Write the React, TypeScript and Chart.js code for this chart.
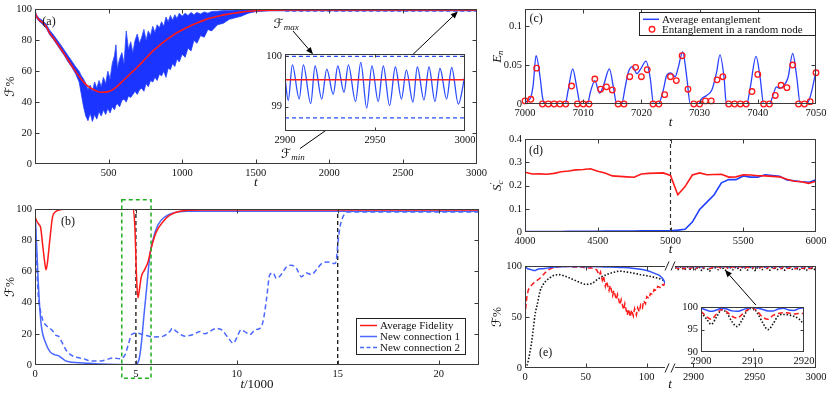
import React, { useEffect, useRef } from 'react';
import { Chart, registerables } from 'chart.js';
Chart.register(...registerables);

const SERIF = "'Liberation Serif','Times New Roman',serif";
const MATHF = "'DejaVu Serif','DejaVu Sans',serif";
const BOX = '#3a3a3a';
const RED = '#ff1a1a';

// ---------------- Panel (a) ----------------
const A_T = [0, 10, 25, 50, 75, 100, 125, 150, 175, 200, 225, 250, 275, 300, 315, 330, 345, 360, 375, 390, 405, 420, 435, 450, 465, 480, 495, 510, 525, 540, 550, 560, 575, 590, 605, 620, 635, 650, 665, 680, 695, 710, 725, 740, 755, 770, 785, 800, 815, 830, 845, 860, 875, 890, 905, 920, 935, 950, 965, 980, 1000, 1020, 1040, 1060, 1080, 1100, 1125, 1150, 1175, 1200, 1240, 1280, 1320, 1360, 1400, 1450, 1500, 1600, 1800, 3000];
const A_UPPER = [99.5, 96.5, 94.5, 92.8, 90.5, 86.5, 83.5, 80.3, 77, 73.5, 70, 66.5, 63, 60, 57, 55, 52, 48, 51, 47, 53, 49, 54, 50, 56, 52, 60, 55, 65, 70, 77, 62, 68, 72, 65, 86, 74, 79, 72, 80, 84, 78, 82, 87, 80, 86, 83, 89, 85, 90, 88, 92, 89, 95, 92, 96, 93, 96.5, 94, 97.5, 95.5, 97.5, 96, 98, 96.5, 98, 97, 98.3, 97.5, 98.6, 98.8, 99.2, 99.3, 99.5, 99.7, 99.8, 99.9, 99.95, 99.95, 99.95];
const A_LOWER = [97, 94.5, 92.5, 90.5, 88, 83.5, 80.5, 77, 73.5, 70, 66, 62.5, 58.5, 53, 45, 37, 31, 28, 33, 27.5, 32, 29, 34, 31, 35, 32, 36, 33, 37, 35, 38, 39, 37, 41, 42, 40, 44, 43, 45, 47, 45, 48, 49, 47, 52, 50, 54, 53, 56, 54, 58, 57, 60, 56, 62, 61, 65, 63, 68, 66, 71, 69, 75, 73, 80, 78, 83, 82, 87, 86, 90, 91, 93.5, 94.5, 95.5, 97.5, 98.5, 99, 99.05, 99.05];
const A_RED_T = [0, 10, 25, 50, 75, 100, 125, 150, 175, 200, 250, 300, 350, 400, 446, 500, 550, 600, 650, 700, 750, 800, 850, 900, 950, 1000, 1050, 1100, 1150, 1200, 1250, 1300, 1350, 1400, 1450, 1500, 1600, 1700, 3000];
const A_RED = [98, 95.5, 93.5, 91.5, 89, 84.5, 81.5, 78, 74.5, 71, 63.5, 56.5, 51, 48, 46.4, 46.8, 49.5, 54, 58.5, 63, 68, 73, 77, 80.7, 84, 86.6, 89, 91.2, 93, 94.5, 95.7, 96.7, 97.5, 98.2, 98.7, 99.1, 99.4, 99.5, 99.5];
const A_FMAX = 99.99;
const A_FMIN = 98.78;
const A_BOUND_T = [1700, 3000];
// inset (a)
const AI_T = [2900, 2901.8, 2904.1, 2907.9, 2910.2, 2914.3, 2916.7, 2920.4, 2923.2, 2926.8, 2929.3, 2932.8, 2935.2, 2939.2, 2942.1, 2945.4, 2948.3, 2951.8, 2954.6, 2958.1, 2961.3, 2964.7, 2967.4, 2971.1, 2973.5, 2977.2, 2980.0, 2983.3, 2986.1, 2989.8, 2992.6, 2996.3, 3000];
const AI_BLUE = [99.56, 99.12, 99.82, 99.15, 99.82, 99.06, 99.80, 99.15, 99.74, 99.24, 99.80, 99.28, 99.82, 99.10, 99.87, 98.97, 99.80, 99.10, 99.80, 99.02, 99.78, 99.15, 99.72, 99.09, 99.78, 99.13, 99.78, 99.10, 99.75, 99.15, 99.77, 99.05, 99.62];
const AI_RED = 99.53;

// ---------------- Panel (b) ----------------
const B_AVG_T = [0, 0.1, 0.2, 0.28, 0.38, 0.5, 0.55, 0.62, 0.74, 0.87, 1.0, 1.3, 1.6, 4.87, 4.95, 5.03, 5.1, 5.18, 5.27, 5.43, 5.6, 5.76, 6.0, 6.35, 6.68, 7.18, 8.2, 22];
const B_AVG = [95, 92, 90, 88, 77, 64, 61, 66, 81, 95, 98, 99.7, 100, 100, 88, 57, 43, 49, 56.6, 61, 66, 75, 85, 92, 96, 98.5, 99.3, 99.3];
const B_C1_T = [0, 0.08, 0.16, 0.25, 0.33, 0.5, 0.74, 0.99, 1.16, 1.32, 1.57, 2.4, 3.2, 4.87, 5.03, 5.17, 5.28, 5.4, 5.53, 5.7, 5.86, 6.1, 6.44, 6.85, 7.5, 22];
const B_C1 = [99, 77, 53.5, 34, 23.5, 15, 8.6, 6.5, 6, 4.5, 2.4, 1.3, 0.6, 0.2, 0.5, 4.5, 15, 32, 49, 71, 81, 90, 95, 97.5, 98.5, 98.5];
const B_C2_T = [0, 0.08, 0.16, 0.28, 0.41, 0.58, 0.74, 0.9, 1.04, 1.16, 1.32, 1.57, 1.9, 2.4, 2.8, 3.2, 3.55, 3.88, 4.2, 4.46, 4.62, 4.79, 5.03, 5.36, 5.86, 6.35, 6.68, 6.8, 7.0, 7.43, 7.84, 8.17, 8.42, 8.66, 9.0, 9.25, 9.57, 9.82, 10.0, 10.2, 10.5, 10.65, 10.9, 11.15, 11.3, 11.47, 11.63, 11.8, 11.96, 12.2, 12.47, 12.7, 12.95, 13.2, 13.45, 13.7, 13.94, 14.2, 14.52, 14.85, 14.93, 15.0, 15.1, 15.26, 15.5, 22];
const B_C2 = [98, 66, 45, 34, 28, 25, 23.5, 21.5, 19, 18.5, 15, 9, 5.6, 4, 2.5, 2.5, 3.5, 4.5, 4, 6.5, 13, 19.5, 20.5, 19.5, 18, 18.5, 21.5, 23.5, 21.5, 18.5, 19.5, 21.5, 20, 21.5, 23.5, 22.5, 17.5, 14, 17.5, 22.5, 20.5, 19.5, 22.5, 23.5, 28, 42, 57.7, 59, 55.5, 58, 63, 64, 62, 56.6, 59, 58, 61, 65, 66, 65, 67, 77, 87.5, 95, 98, 98];
const B_MARKS = [5, 15];
const B_LEGEND = ['Average Fidelity', 'New connection 1', 'New connection 2'];

// ---------------- Panel (c) ----------------
const C_T = [7000, 7000.9, 7001.4, 7001.9, 7002.6, 7003.0, 7003.4, 7006.9, 7007.4, 7008.2, 7008.9, 7009.5, 7010.7, 7011.3, 7012.0, 7012.8, 7013.5, 7014.5, 7015.2, 7015.75, 7016.6, 7017.2, 7017.8, 7018.5, 7019.2, 7019.8, 7020.8, 7021.5, 7022.1, 7022.9, 7023.8, 7024.3, 7025.0, 7025.8, 7026.3, 7027.1, 7027.8, 7028.4, 7029.8, 7030.4, 7031.2, 7032.1, 7032.9, 7033.5, 7034.2, 7034.6, 7038.1, 7038.7, 7039.7, 7040.4, 7041.0, 7042.0, 7042.6, 7043.2, 7043.8, 7044.5, 7045.2, 7046.0, 7046.7, 7047.3, 7048.3, 7049.0, 7050];
const C_AVG = [0.003, 0.007, 0.024, 0.062, 0.034, 0.009, 0, 0, 0.017, 0.045, 0.021, 0, 0, 0.017, 0.030, 0.014, 0.024, 0.045, 0.021, 0, 0, 0.021, 0.042, 0.048, 0.039, 0.044, 0.055, 0.034, 0, 0, 0.019, 0.036, 0.040, 0.035, 0.046, 0.067, 0.034, 0, 0, 0.007, 0.011, 0.018, 0.040, 0.063, 0.034, 0, 0, 0.021, 0.061, 0.034, 0, 0, 0.011, 0.022, 0.020, 0.024, 0.034, 0.065, 0.034, 0, 0, 0.009, 0.042];
const C_NODE_T = [7000, 7001, 7002, 7003, 7004, 7005, 7006, 7007, 7008, 7009, 7010, 7011, 7012, 7013, 7014, 7015, 7016, 7017, 7018, 7019, 7020, 7021, 7022, 7023, 7024, 7025, 7026, 7027, 7028, 7029, 7030, 7031, 7032, 7033, 7034, 7035, 7036, 7037, 7038, 7039, 7040, 7041, 7042, 7043, 7044, 7045, 7046, 7047, 7048, 7049, 7050];
const C_NODE = [0.004, 0.006, 0.046, 0, 0, 0, 0, 0, 0.023, 0, 0, 0, 0.032, 0.019, 0.022, 0.018, 0, 0, 0.035, 0.047, 0.035, 0.044, 0, 0, 0.012, 0.035, 0.030, 0.062, 0.019, 0, 0, 0.004, 0.004, 0.031, 0.035, 0, 0, 0, 0, 0.016, 0.038, 0, 0, 0.011, 0.024, 0.021, 0.050, 0, 0, 0.003, 0.040];
const C_LEGEND = ['Average entanglement', 'Entanglement in a random node'];

// ---------------- Panel (d) ----------------
const D_T = [4000, 4050, 4100, 4150, 4200, 4250, 4300, 4350, 4400, 4450, 4500, 4550, 4600, 4650, 4700, 4750, 4800, 4850, 4900, 4950, 5000, 5050, 5100, 5150, 5200, 5250, 5300, 5350, 5400, 5450, 5500, 5550, 5600, 5650, 5700, 5750, 5800, 5850, 5900, 5950, 6000];
const D_RED = [0.258, 0.250, 0.251, 0.249, 0.253, 0.260, 0.263, 0.268, 0.270, 0.273, 0.262, 0.255, 0.242, 0.240, 0.238, 0.236, 0.250, 0.253, 0.254, 0.255, 0.244, 0.161, 0.196, 0.246, 0.255, 0.247, 0.248, 0.249, 0.237, 0.238, 0.247, 0.246, 0.243, 0.242, 0.240, 0.238, 0.228, 0.219, 0.217, 0.210, 0.219];
const D_BLUE = [0.002, 0.002, 0.002, 0.002, 0.002, 0.002, 0.003, 0.003, 0.003, 0.003, 0.003, 0.004, 0.004, 0.004, 0.004, 0.004, 0.005, 0.005, 0.005, 0.005, 0.005, 0.008, 0.012, 0.043, 0.097, 0.129, 0.161, 0.212, 0.226, 0.226, 0.242, 0.237, 0.237, 0.247, 0.244, 0.240, 0.224, 0.221, 0.217, 0.214, 0.225];
const D_MARK = 5000;

// ---------------- Panel (e) ----------------
const E_BLUE_T = [0, 2, 4, 6, 8, 10, 13, 16, 20, 25, 30, 35, 40, 45, 50, 55, 60, 65, 70, 75, 80, 85, 90, 95, 100, 104, 107, 110, 112, 114, 115];
const E_BLUE = [100, 97.5, 96.8, 96, 95.5, 96.5, 97.2, 97.5, 98.3, 99, 99.3, 99.5, 99.3, 99.5, 99.2, 99.4, 99.3, 99.1, 99, 98.8, 98.5, 98.2, 97.5, 96.8, 95.5, 94, 92.5, 91, 89, 86, 83];
const E_RED_T = [0, 0.7, 1.4, 2.7, 4.5, 6.8, 9.5, 12.3, 15, 17.8, 20.5, 23.3, 28, 33, 37, 42, 46, 50, 54, 57, 59, 61, 62, 63.5, 64.5, 66, 67, 69, 70, 72, 73, 75, 76, 78, 79, 81, 82, 84, 85, 86.5, 87.5, 89, 90, 91.5, 92.5, 94, 95, 96.5, 97.5, 99, 100, 102, 103, 105, 106, 108, 109, 111, 112, 114, 115];
const E_RED = [50, 60, 68.5, 76.6, 80, 83, 85.5, 88, 91.5, 95, 97, 98.4, 99.2, 99.5, 99.4, 98.8, 99.2, 98, 98.3, 97.5, 96, 91, 94, 86, 90, 80, 85, 76, 81, 71, 76, 67, 72, 62, 67, 57, 63, 52, 58, 50, 57, 51, 58, 52, 59, 55, 62, 59, 66, 63, 70, 68, 73, 72, 77, 76, 80, 79, 82, 81, 84];
const E_BLACK_T = [0, 1.5, 3.5, 5.5, 7, 8.2, 10, 12.3, 15, 17.8, 20.5, 23.3, 28, 34, 40, 45, 50, 55, 61, 66, 72, 78, 84, 89, 95, 100, 106, 111, 115];
const E_BLACK = [0, 2, 12, 26, 40, 52, 62, 75, 82, 86, 88.5, 90.6, 91.5, 89.5, 86.5, 84, 82, 83, 88, 91, 93.5, 95, 94, 93, 91.5, 90.5, 89, 87.3, 85.5];
const ER_T = [2885, 2887.5, 2890, 2892.5, 2895, 2897.5, 2900, 2902, 2904, 2907, 2910, 2913, 2915.5, 2918, 2920.5, 2923, 2926, 2929, 2932, 2935, 2938, 2941, 2944, 2947, 2950, 2953, 2956, 2959, 2962, 2965, 2968, 2971, 2974, 2977, 2980, 2983, 2986, 2989, 2992, 2995, 2998, 3000];
const ER_BLUE = [99.8, 99.2, 99.9, 99.1, 99.8, 99.3, 99.8, 99.1, 99.8, 99.1, 100, 99.2, 99.7, 99.3, 99.9, 99.2, 99.8, 99.1, 99.9, 99.3, 99.8, 99.1, 99.9, 99.2, 99.8, 99.2, 99.9, 99.1, 99.8, 99.3, 99.9, 99.1, 99.8, 99.2, 99.9, 99.1, 99.8, 99.3, 99.9, 99.2, 99.8, 99.6];
const ER_RED = [99.3, 97.6, 99.4, 97.4, 99.2, 97.8, 99.1, 97.3, 99.5, 97.6, 99.9, 97.3, 98.6, 98.5, 99.2, 97.5, 99.4, 97.2, 99.3, 97.6, 99.5, 97.4, 99.1, 97.3, 99.4, 97.7, 99.3, 97.2, 99.5, 97.5, 99.2, 97.4, 99.4, 97.6, 99.3, 97.3, 99.5, 97.5, 99.2, 97.4, 99.3, 98.5];
const ER_BLACK = [98.8, 96.5, 99.2, 96.0, 99.0, 96.8, 98.8, 96.2, 99.4, 95.7, 99.8, 95.0, 98.1, 98.2, 96.3, 99.0, 95.8, 99.3, 96.4, 99.1, 95.9, 99.4, 96.2, 99.0, 95.6, 99.2, 96.5, 99.3, 95.9, 99.0, 96.3, 99.4, 95.8, 99.1, 96.6, 99.2, 96.0, 99.3, 95.7, 99.0, 96.4, 97.5];
const EI_T = [2900, 2901, 2902, 2903, 2904, 2905, 2906, 2907, 2908, 2909, 2910, 2911, 2912, 2913, 2914, 2915, 2916, 2917, 2918, 2919, 2920];
const EI_BLUE = [99.8, 99.4, 99.1, 99.4, 99.8, 99.6, 99.2, 99.1, 99.4, 99.8, 100, 99.8, 99.5, 99.2, 99.2, 99.6, 99.8, 99.4, 99.3, 99.7, 99.9];
const EI_RED = [99.1, 98.0, 97.3, 98.5, 99.5, 99.0, 98.0, 97.6, 98.4, 99.4, 99.9, 99.0, 97.8, 97.3, 98.2, 98.6, 98.8, 98.7, 98.5, 98.6, 98.6];
const EI_BLACK = [98.8, 97.5, 96.2, 97.8, 99.4, 98.8, 96.8, 95.7, 97.2, 99.3, 99.8, 98.6, 96.5, 95.0, 96.3, 98.1, 98.4, 98.3, 98.0, 97.4, 96.2];

// ---------------- helpers ----------------
const pts = (xs: number[], ys: number[]) => xs.map((x, i) => ({ x, y: ys[i] }));
const flat = (xs: number[], v: number) => xs.map((x) => ({ x, y: v }));
const vline = (x: number, y0: number, y1: number) => [{ x, y: y0 }, { x, y: y1 }];
const fmt = (v: any) => String(Math.round(Number(v) * 1000) / 1000);

type Seg = { t: string; size?: number; dy?: number; italic?: boolean; font?: string; noAdv?: boolean };
function drawSegs(ctx: any, segs: Seg[], cx: number, cy: number, rot = 0) {
  ctx.save();
  ctx.translate(cx, cy);
  if (rot) ctx.rotate(rot);
  const fonts = segs.map((s) => `${s.italic ? 'italic ' : ''}${s.size || 12}px ${s.font || SERIF}`);
  let total = 0;
  const widths = segs.map((s, i) => { ctx.font = fonts[i]; const w = ctx.measureText(s.t).width; if (!s.noAdv) total += w; return w; });
  let x = -total / 2;
  ctx.textBaseline = 'middle'; ctx.textAlign = 'left'; ctx.fillStyle = '#111';
  segs.forEach((s, i) => { ctx.font = fonts[i]; ctx.fillText(s.t, x, s.dy || 0); if (!s.noAdv) x += widths[i]; });
  ctx.restore();
}
function arrow(ctx: any, x0: number, y0: number, x1: number, y1: number) {
  const ang = Math.atan2(y1 - y0, x1 - x0);
  const hl = 7, hw = 3;
  ctx.save();
  ctx.strokeStyle = '#000'; ctx.fillStyle = '#000'; ctx.lineWidth = 1; ctx.setLineDash([]);
  ctx.beginPath(); ctx.moveTo(x0, y0); ctx.lineTo(x1 - hl * Math.cos(ang), y1 - hl * Math.sin(ang)); ctx.stroke();
  ctx.beginPath();
  ctx.moveTo(x1, y1);
  ctx.lineTo(x1 - hl * Math.cos(ang) + hw * Math.sin(ang), y1 - hl * Math.sin(ang) - hw * Math.cos(ang));
  ctx.lineTo(x1 - hl * Math.cos(ang) - hw * Math.sin(ang), y1 - hl * Math.sin(ang) + hw * Math.cos(ang));
  ctx.closePath(); ctx.fill();
  ctx.restore();
}
const FSEG: Seg[] = [{ t: 'ℱ', size: 13, font: MATHF }, { t: '%', size: 12 }];
const TSEG: Seg[] = [{ t: 't', size: 13, italic: true }];

function makeDeco(cfg: any) {
  return {
    id: 'deco',
    beforeDraw(chart: any) {
      if (!cfg.white) return;
      const { ctx, chartArea: a } = chart;
      ctx.save(); ctx.fillStyle = '#fff'; ctx.fillRect(a.left, a.top, a.right - a.left, a.bottom - a.top); ctx.restore();
    },
    afterDraw(chart: any) {
      const { ctx, chartArea: a } = chart;
      const s = Object.assign({ l: true, r: true, t: true, b: true }, cfg.sides || {});
      const tl = cfg.tickLen ?? 4;
      const L = Math.round(a.left) + 0.5, R = Math.round(a.right) - 0.5, T = Math.round(a.top) + 0.5, B = Math.round(a.bottom) - 0.5;
      ctx.save();
      ctx.strokeStyle = BOX; ctx.lineWidth = 1; ctx.setLineDash([]);
      ctx.beginPath();
      if (s.t) { ctx.moveTo(L - 0.5, T); ctx.lineTo(R + 0.5, T); }
      if (s.b) { ctx.moveTo(L - 0.5, B); ctx.lineTo(R + 0.5, B); }
      if (s.l) { ctx.moveTo(L, T); ctx.lineTo(L, B); }
      if (s.r) { ctx.moveTo(R, T); ctx.lineTo(R, B); }
      const xs = chart.scales.x, ys = chart.scales.y;
      (xs.ticks || []).forEach((t: any) => {
        const p = Math.round(xs.getPixelForValue(t.value)) + 0.5;
        if (p <= L + 1 || p >= R - 1) return;
        if (s.b) { ctx.moveTo(p, B); ctx.lineTo(p, B - tl); }
        if (s.t) { ctx.moveTo(p, T); ctx.lineTo(p, T + tl); }
      });
      if (ys.options.display !== false) (ys.ticks || []).forEach((t: any) => {
        const p = Math.round(ys.getPixelForValue(t.value)) + 0.5;
        if (p <= T + 1 || p >= B - 1) return;
        if (s.l) { ctx.moveTo(L, p); ctx.lineTo(L + tl, p); }
        if (s.r) { ctx.moveTo(R, p); ctx.lineTo(R - tl, p); }
      });
      ctx.stroke();
      ctx.restore();
      const cx = (a.left + a.right) / 2, cy = (a.top + a.bottom) / 2;
      if (cfg.xTitle) drawSegs(ctx, cfg.xTitle.segs, cfg.xTitle.atLeft ? a.left + cfg.xTitle.dx : cx, a.bottom + cfg.xTitle.dy);
      if (cfg.yTitle) drawSegs(ctx, cfg.yTitle.segs, a.left + cfg.yTitle.dx, cy, -Math.PI / 2);
      if (cfg.label) {
        drawSegs(ctx, [{ t: cfg.label.text, size: 12 }], xs.getPixelForValue(cfg.label.x), ys.getPixelForValue(cfg.label.y));
      }
      if (cfg.extra) cfg.extra(chart);
    },
  };
}

function legendBox(ctx: any, right: number, top: number, w: number, rowH: number, rows: any[]) {
  const left = right - w, h = rowH * rows.length + 3;
  ctx.save();
  ctx.fillStyle = '#fff'; ctx.fillRect(left, top, w, h);
  ctx.strokeStyle = '#222'; ctx.lineWidth = 1; ctx.setLineDash([]);
  ctx.strokeRect(Math.round(left) + 0.5, Math.round(top) + 0.5, w, h);
  rows.forEach((r, i) => {
    const y = top + 2 + rowH * i + rowH / 2;
    ctx.strokeStyle = r.color; ctx.lineWidth = 1.5;
    if (r.kind === 'circle') {
      ctx.setLineDash([]); ctx.lineWidth = 1.3;
      ctx.beginPath(); ctx.arc(left + 13, y, 2.8, 0, Math.PI * 2); ctx.stroke();
    } else {
      ctx.setLineDash(r.kind === 'dash' ? [4, 2.5] : []);
      ctx.beginPath(); ctx.moveTo(left + 4, y); ctx.lineTo(left + r.sw, y); ctx.stroke();
    }
    ctx.setLineDash([]);
    ctx.fillStyle = '#111'; ctx.font = `11px ${SERIF}`; ctx.textBaseline = 'middle'; ctx.textAlign = 'left';
    ctx.fillText(r.label, left + r.sw + 3, y + 0.5);
  });
  ctx.restore();
}

function axis(min: number, max: number, step: number, size: number, isX: boolean, extra: any = {}) {
  return {
    type: 'linear', min, max, display: extra.display ?? true,
    ticks: { stepSize: step, includeBounds: false, autoSkip: false, maxRotation: 0, padding: 3, color: '#111', font: { family: SERIF, size: 10.5 }, callback: extra.cb || fmt },
    grid: { display: false, drawTicks: false },
    border: { display: false },
    afterFit: (s: any) => { if (isX) s.height = size; else s.width = size; },
  };
}
function opts(x: any, y: any, pad: any) {
  return {
    responsive: false, animation: false, devicePixelRatio: 1,
    layout: { padding: { left: pad.l || 0, right: pad.r || 0, top: pad.t || 0, bottom: 0 } },
    plugins: { legend: { display: false }, tooltip: { enabled: false } },
    elements: { point: { radius: 0 }, line: { tension: 0 } },
    scales: { x, y },
  };
}
const line = (data: any[], color: string, w = 1.5, dash: number[] = [], mono = true, extra: any = {}) => ({
  data, borderColor: color, borderWidth: w, borderDash: dash, pointRadius: 0, fill: false,
  cubicInterpolationMode: mono ? 'monotone' : 'default', ...extra,
});

export default function App() {
  const rA = useRef<HTMLCanvasElement>(null);
  const rAI = useRef<HTMLCanvasElement>(null);
  const rB = useRef<HTMLCanvasElement>(null);
  const rC = useRef<HTMLCanvasElement>(null);
  const rD = useRef<HTMLCanvasElement>(null);
  const rEL = useRef<HTMLCanvasElement>(null);
  const rER = useRef<HTMLCanvasElement>(null);
  const rEI = useRef<HTMLCanvasElement>(null);

  useEffect(() => {
    const charts: Chart[] = [];
    const mk = (el: any, datasets: any[], o: any, deco: any) => {
      charts.push(new Chart(el, { type: 'line', data: { datasets }, options: o, plugins: [makeDeco(deco)] } as any));
    };
    const BAND = 'rgb(28,52,255)';

    // (a)
    mk(rA.current, [
      line(pts(A_RED_T, A_RED), RED, 1.6),
      line(pts(A_T, A_UPPER), 'rgba(50,80,255,0.85)', 1, [], false, { fill: '+1', backgroundColor: BAND }),
      line(pts(A_T, A_LOWER), 'rgba(50,80,255,0.85)', 1, [], false),
      line(flat(A_BOUND_T, A_FMAX), '#2a4cff', 1, [4, 3], false),
      line(flat(A_BOUND_T, A_FMIN), '#2a4cff', 1, [4, 3], false),
    ], opts(axis(0, 3000, 500, 31, true, { cb: (v: any) => (Number(v) === 0 ? '' : String(v)) }), axis(0, 100, 20, 35, false), { t: 6, r: 12 }), {
      xTitle: { segs: TSEG, dy: 19 }, yTitle: { segs: FSEG, dx: -24 }, label: { text: '(a)', x: 95, y: 92 },
      extra: (chart: any) => {
        const ctx = chart.ctx, xs = chart.scales.x, ys = chart.scales.y;
        const P = (x: number, y: number) => [xs.getPixelForValue(x), ys.getPixelForValue(y)];
        const [fx, fy] = P(1706, 90);
        drawSegs(ctx, [{ t: 'ℱ', size: 13, font: MATHF }, { t: 'max', size: 9, italic: true, dy: 3 }], fx, fy);
        const [gx, gy] = P(1753, 6.3);
        drawSegs(ctx, [{ t: 'ℱ', size: 13, font: MATHF }, { t: 'min', size: 9, italic: true, dy: 3 }], gx, gy);
        const a1 = [...P(1753, 86), ...P(1889, 71)];
        arrow(ctx, a1[0], a1[1], a1[2], a1[3]);
        const a2 = [...P(2559, 70), ...P(2873, 98.5)];
        arrow(ctx, a2[0], a2[1], a2[2], a2[3]);
        const a3 = [...P(1801, 10), ...P(2085, 29)];
        arrow(ctx, a3[0], a3[1], a3[2], a3[3]);
      },
    });
    // inset (a)
    mk(rAI.current, [
      line(flat([2900, 3000], AI_RED), RED, 1.5, [], false),
      line(pts(AI_T, AI_BLUE), '#2a4cff', 1.3),
      line(flat([2900, 3000], A_FMAX), '#2a4cff', 1.2, [4, 3], false),
      line(flat([2900, 3000], A_FMIN), '#2a4cff', 1.2, [4, 3], false),
    ], opts(axis(2900, 3000, 50, 19, true, { cb: (v: any) => String(v) }), axis(98.52, 100.03, 1, 35, false), { t: 8, r: 15 }), { white: true, tickLen: 3 });

    // (b)
    mk(rB.current, [
      line(pts(B_AVG_T, B_AVG), RED, 1.5),
      line(pts(B_C1_T, B_C1), '#4a68ff', 1.5),
      line(pts(B_C2_T, B_C2), '#4a68ff', 1.5, [5, 3]),
      line(vline(B_MARKS[0], 0, 100), '#000', 1.2, [4, 3], false),
      line(vline(B_MARKS[1], 0, 100), '#000', 1.2, [4, 3], false),
    ], opts(axis(0, 22, 5, 32, true), axis(0, 100, 20, 35, false), { t: 14, r: 11 }), {
      xTitle: { segs: [{ t: 't', size: 13, italic: true }, { t: '/1000', size: 13 }], dy: 20 },
      yTitle: { segs: FSEG, dx: -24 }, label: { text: '(b)', x: 1.63, y: 91.7 },
      extra: (chart: any) => {
        const ctx = chart.ctx, xs = chart.scales.x, ys = chart.scales.y, a = chart.chartArea;
        const x0 = xs.getPixelForValue(4.3), x1 = xs.getPixelForValue(5.75);
        const y0 = ys.getPixelForValue(106), y1 = ys.getPixelForValue(-8.5);
        ctx.save(); ctx.strokeStyle = '#22b022'; ctx.lineWidth = 1.5; ctx.setLineDash([4, 3]);
        ctx.strokeRect(x0, y0, x1 - x0, y1 - y0); ctx.restore();
        legendBox(ctx, a.right - 14, a.bottom - 47, 109, 11, [
          { label: B_LEGEND[0], color: RED, kind: 'line', sw: 21 },
          { label: B_LEGEND[1], color: '#4a68ff', kind: 'line', sw: 21 },
          { label: B_LEGEND[2], color: '#4a68ff', kind: 'dash', sw: 21 },
        ]);
      },
    });

    // (c)
    mk(rC.current, [
      { data: pts(C_NODE_T, C_NODE), showLine: false, pointRadius: 2.8, pointBorderWidth: 1.3, pointBorderColor: RED, pointBackgroundColor: 'rgba(255,255,255,0)', borderColor: RED, clip: false },
      line(pts(C_T, C_AVG), '#2a40ff', 1.3),
    ], opts(axis(7000, 7050, 10, 26, true, { cb: (v: any) => String(v) }), axis(0, 0.1215, 0.05, 35, false), { t: 6, r: 14 }), {
      xTitle: { segs: TSEG, dy: 18.5 },
      yTitle: { segs: [{ t: 'E', size: 13, italic: true }, { t: 'n', size: 9, italic: true, dy: 3 }], dx: -27 },
      label: { text: '(c)', x: 7001.9, y: 0.109 },
      extra: (chart: any) => {
        const a = chart.chartArea;
        legendBox(chart.ctx, a.right - 1, a.top + 3, 176, 10, [
          { label: C_LEGEND[0], color: '#2a40ff', kind: 'line', sw: 20 },
          { label: C_LEGEND[1], color: RED, kind: 'circle', sw: 20 },
        ]);
      },
    });

    // (d)
    mk(rD.current, [
      line(pts(D_T, D_RED), RED, 1.6, [], false),
      line(pts(D_T, D_BLUE), '#2040ff', 1.6, [], false),
      line(vline(D_MARK, 0, 0.4), '#333', 1.2, [4, 3], false),
    ], opts(axis(4000, 6000, 500, 23, true, { cb: (v: any) => String(v) }), axis(0, 0.4, 0.1, 35, false), { t: 6, r: 14 }), {
      xTitle: { segs: TSEG, dy: 18 },
      yTitle: { segs: [{ t: 'S', size: 13, italic: true }, { t: '′', size: 11, dy: -5, noAdv: true }, { t: 'c', size: 9, italic: true, dy: 3 }], dx: -27 },
      label: { text: '(d)', x: 4075, y: 0.35 },
    });

    // (e) left
    mk(rEL.current, [
      line(pts(E_BLUE_T, E_BLUE), '#3050ff', 1.5),
      line(pts(E_RED_T, E_RED), RED, 1.5, [5, 3], false),
      line(pts(E_BLACK_T, E_BLACK), '#111', 1.6, [1.5, 1.8]),
    ], opts(axis(0, 115, 50, 29, true), axis(0, 100, 50, 35, false), { t: 11, r: 3 }), {
      sides: { r: false }, yTitle: { segs: FSEG, dx: -27 }, label: { text: '(e)', x: 17, y: 14.5 },
    });
    // (e) right
    mk(rER.current, [
      line(pts(ER_T, ER_BLUE), '#3050ff', 1.5),
      line(pts(ER_T, ER_RED), RED, 1.5, [5, 3]),
      line(pts(ER_T, ER_BLACK), '#111', 1.6, [1.5, 1.8]),
    ], opts(axis(2885, 3000, 50, 29, true, { cb: (v: any) => String(v) }), axis(0, 100, 50, 0, false, { display: false }), { t: 11, r: 14, l: 15 }), {
      sides: { l: false },
      xTitle: { segs: TSEG, dy: 17, atLeft: true, dx: -5 },
      extra: (chart: any) => {
        const ctx = chart.ctx, a = chart.chartArea, xs = chart.scales.x, ys = chart.scales.y;
        ctx.save(); ctx.strokeStyle = '#222'; ctx.lineWidth = 1; ctx.setLineDash([]);
        [a.top, a.bottom].forEach((yy: number) => {
          [-10, -4].forEach((dx) => { ctx.beginPath(); ctx.moveTo(a.left + dx, yy + 4.5); ctx.lineTo(a.left + dx + 4, yy - 4.5); ctx.stroke(); });
        });
        ctx.restore();
        arrow(ctx, xs.getPixelForValue(2951), ys.getPixelForValue(61.7), xs.getPixelForValue(2925.8), ys.getPixelForValue(96));
      },
    });
    // (e) inset
    mk(rEI.current, [
      line(pts(EI_T, EI_BLUE), '#3050ff', 1.5),
      line(pts(EI_T, EI_RED), RED, 1.5, [5, 3]),
      line(pts(EI_T, EI_BLACK), '#111', 1.6, [1.5, 1.8]),
    ], opts(axis(2900, 2920, 10, 21, true, { cb: (v: any) => String(v) }), axis(90, 100, 5, 31, false), { t: 8, r: 16 }), { white: true, tickLen: 3 });

    return () => charts.forEach((c) => c.destroy());
  }, []);

  const cv = (ref: any, l: number, t: number, w: number, h: number) => (
    <canvas ref={ref} width={w} height={h} style={{ position: 'absolute', left: l, top: t, width: w, height: h }} />
  );
  return (
    <div style={{ position: 'fixed', left: 0, top: 0, width: 830, height: 397, background: '#fff', overflow: 'hidden' }}>
      {cv(rA, 0, 0, 490, 195)}
      {cv(rAI, 250, 45, 230, 105)}
      {cv(rB, 0, 195, 490, 202)}
      {cv(rC, 490, 0, 340, 130)}
      {cv(rD, 490, 130, 340, 125)}
      {cv(rEL, 490, 255, 178, 142)}
      {cv(rER, 660, 255, 170, 142)}
      {cv(rEI, 670, 298, 150, 75)}
    </div>
  );
}
